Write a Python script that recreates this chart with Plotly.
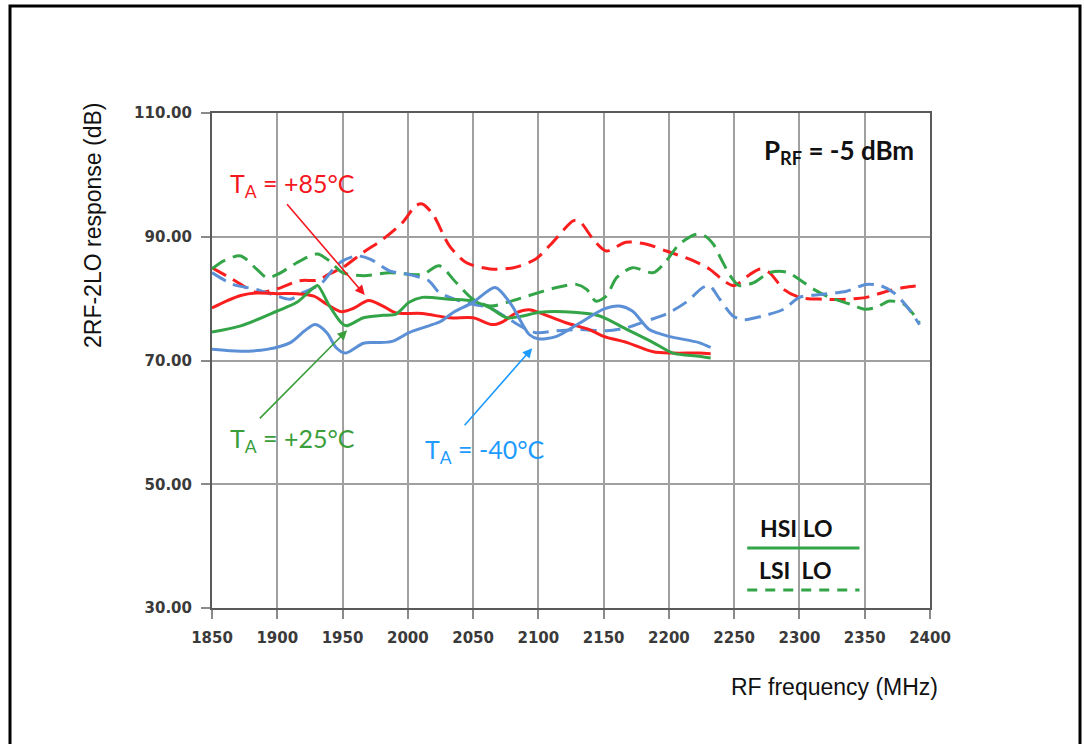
import plotly.graph_objects as go

# ---------------- data ----------------
x_ticks = [1850, 1900, 1950, 2000, 2050, 2100, 2150, 2200, 2250, 2300, 2350, 2400]
y_ticks = [30, 50, 70, 90, 110]

# HSI LO (solid)
red_solid_f = [1850, 1861, 1872, 1884, 1900, 1915, 1928, 1938, 1949, 1958, 1970, 1981, 1991, 2011, 2032,
               2050, 2065, 2073, 2083, 2093, 2101, 2121, 2139, 2150, 2168, 2188, 2203, 2223, 2232]
red_solid_v = [78.5, 79.6, 80.5, 80.9, 80.8, 80.8, 80.4, 79.1, 77.9, 78.4, 79.7, 78.8, 77.7, 77.6, 76.9,
               76.9, 75.8, 76.3, 77.7, 78.2, 77.7, 76.1, 75.0, 73.9, 72.9, 71.4, 71.2, 71.2, 71.1]

green_solid_f = [1850, 1872, 1900, 1915, 1928, 1931, 1940, 1949, 1953, 1966, 1981, 1991, 2001, 2011, 2032,
                 2050, 2063, 2076, 2088, 2101, 2127, 2147, 2168, 2188, 2203, 2223, 2232]
green_solid_v = [74.6, 75.6, 78.0, 79.4, 81.8, 82.1, 78.8, 76.1, 75.6, 76.9, 77.3, 77.5, 79.4, 80.2, 79.9,
                 79.6, 78.5, 76.9, 77.2, 77.8, 77.8, 77.2, 75.0, 72.9, 71.2, 70.7, 70.4]

blue_solid_f = [1850, 1872, 1892, 1910, 1921, 1929, 1938, 1945, 1952, 1966, 1976, 1988, 2001, 2016, 2025,
                2035, 2050, 2067, 2079, 2093, 2100, 2114, 2132, 2150, 2162, 2172, 2185, 2200, 2223, 2232]
blue_solid_v = [71.8, 71.5, 71.8, 72.9, 74.8, 75.8, 74.5, 72.1, 71.2, 72.8, 72.9, 73.1, 74.5, 75.6, 76.3,
                77.8, 79.4, 81.8, 79.1, 74.2, 73.5, 73.9, 76.1, 78.3, 78.8, 78.0, 75.0, 73.9, 72.9, 72.1]

# LSI LO (dashed)
red_dash_f = [1850, 1866, 1884, 1900, 1917, 1931, 1940, 1950, 1966, 1981, 1996, 2006, 2011, 2019, 2032,
              2045, 2063, 2081, 2098, 2111, 2127, 2132, 2142, 2152, 2167, 2183, 2198, 2219, 2231, 2242,
              2250, 2262, 2270, 2277, 2288, 2300, 2318, 2336, 2351, 2367, 2380, 2392]
red_dash_v = [85.0, 83.1, 81.0, 81.6, 82.9, 83.0, 84.0, 85.0, 87.5, 89.6, 92.3, 95.0, 95.3, 93.7, 88.5,
              85.8, 84.8, 85.0, 86.4, 89.1, 92.6, 92.4, 89.6, 87.7, 89.1, 88.8, 87.7, 86.1, 84.8, 82.9,
              82.1, 83.9, 84.8, 84.2, 81.5, 80.2, 79.9, 79.9, 80.2, 81.2, 81.8, 82.1]

green_dash_f = [1850, 1859, 1872, 1884, 1892, 1900, 1915, 1925, 1931, 1940, 1950, 1966, 1986, 2011, 2024,
                2037, 2050, 2063, 2076, 2093, 2114, 2129, 2137, 2144, 2152, 2160, 2172, 2188, 2198, 2208,
                2221, 2227, 2234, 2240, 2247, 2254, 2265, 2277, 2290, 2300, 2311, 2323, 2339, 2350, 2359,
                2369, 2380, 2392]
green_dash_v = [84.8, 86.1, 86.9, 84.8, 83.4, 83.9, 85.8, 86.9, 87.2, 86.1, 84.2, 83.7, 84.2, 83.9, 85.3,
                82.6, 79.9, 78.8, 79.4, 80.5, 81.8, 82.3, 81.5, 79.6, 80.4, 83.4, 85.0, 84.2, 86.1, 88.8,
                90.4, 90.2, 88.8, 86.4, 83.7, 82.1, 82.6, 84.2, 84.3, 83.1, 81.5, 80.2, 79.1, 78.3, 78.6,
                79.6, 79.1, 76.1]

blue_dash_f = [1850, 1866, 1884, 1900, 1910, 1920, 1933, 1943, 1950, 1961, 1971, 1986, 2001, 2016, 2024,
               2040, 2050, 2063, 2076, 2086, 2098, 2114, 2132, 2152, 2168, 2183, 2198, 2213, 2226, 2231,
               2239, 2249, 2257, 2272, 2288, 2300, 2318, 2336, 2351, 2362, 2372, 2382, 2392]
blue_dash_v = [84.2, 82.3, 81.5, 80.4, 79.9, 81.0, 82.3, 84.8, 86.1, 86.9, 86.4, 84.5, 83.9, 82.9, 81.0,
               79.6, 79.1, 78.5, 76.9, 75.6, 74.5, 74.8, 75.0, 74.8, 75.3, 76.4, 77.5, 79.4, 81.8, 82.1,
               79.9, 77.2, 76.6, 77.2, 78.3, 80.2, 80.7, 81.2, 82.3, 82.1, 81.0, 78.8, 75.8]

# legend sample line positions (data units)
legend_line_f = [2260, 2346]
legend_solid_v = 39.7
legend_dash_v = 32.9

# ---------------- style ----------------
RED = "#FA1E1E"
GREEN = "#33A447"
BLUE = "#5B8FD6"
RED_TXT = "#F5171E"
GREEN_TXT = "#3A9E3A"
BLUE_TXT = "#1E9BFF"
DASH = "16px,8px"
LW = 3

fig = go.Figure()

series = [
    (red_solid_f, red_solid_v, RED, "solid"),
    (green_solid_f, green_solid_v, GREEN, "solid"),
    (blue_solid_f, blue_solid_v, BLUE, "solid"),
    (red_dash_f, red_dash_v, RED, DASH),
    (green_dash_f, green_dash_v, GREEN, DASH),
    (blue_dash_f, blue_dash_v, BLUE, DASH),
]
for f, v, c, d in series[3:] + series[:3]:
    fig.add_trace(go.Scatter(x=f, y=v, mode="lines",
                             line=dict(color=c, width=LW, dash=d, shape="spline", smoothing=0.8),
                             showlegend=False, hoverinfo="skip"))

# legend sample lines
fig.add_trace(go.Scatter(x=legend_line_f, y=[legend_solid_v] * 2, mode="lines",
                         line=dict(color=GREEN, width=LW), showlegend=False, hoverinfo="skip"))
fig.add_trace(go.Scatter(x=legend_line_f, y=[legend_dash_v] * 2, mode="lines",
                         line=dict(color=GREEN, width=LW, dash="10px,8px"), showlegend=False,
                         hoverinfo="skip"))

ANN_FONT = "Lato, Open Sans, sans-serif"
annotations = [
    # arrows
    dict(x=1967, y=80.6, ax=1906.5, ay=95.5, xref="x", yref="y", axref="x", ayref="y", text="",
         showarrow=True, arrowhead=2, arrowsize=1.2, arrowwidth=1.6, arrowcolor=RED_TXT),
    dict(x=1953.5, y=74.9, ax=1885.5, ay=60.4, xref="x", yref="y", axref="x", ayref="y", text="",
         showarrow=True, arrowhead=2, arrowsize=1.2, arrowwidth=1.6, arrowcolor=GREEN_TXT),
    dict(x=2095.3, y=72.0, ax=2042.5, ay=59.3, xref="x", yref="y", axref="x", ayref="y", text="",
         showarrow=True, arrowhead=2, arrowsize=1.2, arrowwidth=1.6, arrowcolor=BLUE_TXT),
    # labels
    dict(x=1911.5, y=98.4, xref="x", yref="y", text="T<sub>A</sub> = +85°C", showarrow=False,
         font=dict(family=ANN_FONT, size=25, color=RED_TXT)),
    dict(x=1911.5, y=57.2, xref="x", yref="y", text="T<sub>A</sub> = +25°C", showarrow=False,
         font=dict(family=ANN_FONT, size=25, color=GREEN_TXT)),
    dict(x=2059.5, y=55.4, xref="x", yref="y", text="T<sub>A</sub> = -40°C", showarrow=False,
         font=dict(family=ANN_FONT, size=25, color=BLUE_TXT)),
    dict(x=2330, y=103.7, xref="x", yref="y", text="<b>P<sub>RF</sub> = -5 dBm</b>", showarrow=False,
         font=dict(family=ANN_FONT, size=26, color="#111111")),
    dict(x=2298, y=43.0, xref="x", yref="y", text="<b>HSI LO</b>", showarrow=False,
         font=dict(family=ANN_FONT, size=23, color="#111111")),
    dict(x=2297, y=36.2, xref="x", yref="y", text="<b>LSI  LO</b>", showarrow=False,
         font=dict(family=ANN_FONT, size=23, color="#111111")),
]

L, R, T, B = 212, 930, 113, 608
def px_x(p):
    return (p - L) / (R - L)
def px_y(p):
    return (B - p) / (B - T)

# axis titles (placed by pixel position)
annotations += [
    dict(x=px_x(940), y=px_y(687), xref="paper", yref="paper", text="RF frequency (MHz)", showarrow=False,
         xanchor="right", yanchor="middle",
         font=dict(family="Liberation Sans, Arial, sans-serif", size=23, color="#111111")),
    dict(x=px_x(93), y=px_y(226), xref="paper", yref="paper", text="2RF-2LO response (dB)", showarrow=False,
         textangle=-90, xanchor="center", yanchor="middle",
         font=dict(family="Liberation Sans, Arial, sans-serif", size=23, color="#111111")),
]

# outer frame of the figure panel
shapes = [dict(type="rect", xref="paper", yref="paper",
               x0=px_x(10), x1=px_x(1080), y0=px_y(790), y1=px_y(6),
               line=dict(color="black", width=3), fillcolor="rgba(0,0,0,0)", layer="below")]

TICKFONT = dict(family="DejaVu Sans, sans-serif", size=15, color="#3a3a3a", weight="bold")

fig.update_layout(
    width=1084, height=744,
    margin=dict(l=L, r=1084 - R, t=T, b=744 - B, autoexpand=False),
    paper_bgcolor="white", plot_bgcolor="white",
    annotations=annotations, shapes=shapes,
    xaxis=dict(range=[1850, 2400], tickvals=x_ticks, ticktext=[str(t) for t in x_ticks],
               showgrid=True, gridcolor="#A0A0A0", gridwidth=2,
               showline=True, linecolor="#5a5a5a", linewidth=2, mirror=True,
               ticks="outside", ticklen=9, tickwidth=1.5, tickcolor="#8a8a8a",
               tickfont=TICKFONT, zeroline=False, ticklabelstandoff=6),
    yaxis=dict(range=[30, 110], tickvals=y_ticks, ticktext=[f"{t:.2f}" for t in y_ticks],
               showgrid=True, gridcolor="#A0A0A0", gridwidth=2,
               showline=True, linecolor="#5a5a5a", linewidth=2, mirror=True,
               ticks="outside", ticklen=9, tickwidth=1.5, tickcolor="#8a8a8a",
               tickfont=TICKFONT, zeroline=False, ticklabelstandoff=6),
)

fig.write_html("out.html", config={"displayModeBar": False},
               post_script="document.body.style.margin='0';")
